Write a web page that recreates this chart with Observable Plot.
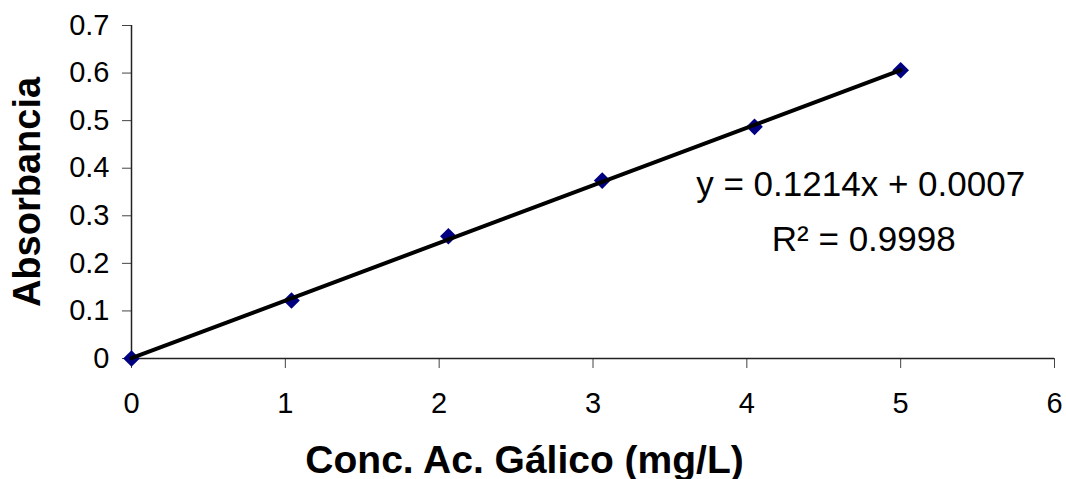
<!DOCTYPE html>
<html><head><meta charset="utf-8">
<script src="https://cdn.jsdelivr.net/npm/d3@7"></script>
<script src="https://cdn.jsdelivr.net/npm/@observablehq/plot@0.6"></script>
<style>body{margin:0;background:#fff;} svg{display:block;}</style>
</head><body><div id="chart"></div>
<script>
// Data
const conc = [0, 1.04, 2.06, 3.06, 4.05, 5.0];
const absorb = [0, 0.122, 0.257, 0.374, 0.487, 0.606];
const xTicks = [0, 1, 2, 3, 4, 5, 6];
const yTicks = [0, 0.1, 0.2, 0.3, 0.4, 0.5, 0.6, 0.7];
const equationLine = "y = 0.1214x + 0.0007";
const r2Line = "R² = 0.9998";
const xTitle = "Conc. Ac. Gálico (mg/L)";
const yTitle = "Absorbancia";

const points = conc.map((x, i) => ({x, y: absorb[i]}));

const chart = Plot.plot({
  width: 1066,
  height: 479,
  marginLeft: 131,
  marginRight: 12,
  marginTop: 25,
  marginBottom: 121,
  style: {fontFamily: "'Liberation Sans', Arial, sans-serif", fontSize: "29px", color: "#000", background: "#fff"},
  x: {domain: [0, 6]},
  y: {domain: [0, 0.7]},
  marks: [
    Plot.axisY(yTicks, {tickSize: 9, tickPadding: 13, fontSize: 29, label: null, stroke: "#444", fill: "#000",
      tickFormat: d => d === 0 ? "0" : d.toFixed(1)}),
    Plot.axisX(xTicks, {tickSize: 10, tickPadding: 24, fontSize: 29, label: null, stroke: "#444", fill: "#000",
      tickFormat: d => String(d)}),
    Plot.ruleY([0], {stroke: "#222", strokeWidth: 1.5}),
    Plot.ruleX([0], {stroke: "#222", strokeWidth: 1.5}),
    Plot.dot(points, {x: "x", y: "y", symbol: "diamond2", r: 7.5, fill: "#000080", stroke: "none"}),
    Plot.linearRegressionY(points, {x: "x", y: "y", stroke: "#000", strokeWidth: 4, ci: 0}),
    Plot.text([{t: equationLine, x: 4.74, y: 0.342}], {x: "x", y: "y", text: "t", lineAnchor: "bottom", textAnchor: "middle", fontSize: 35, fill: "#000"}),
    Plot.text([{t: r2Line, x: 4.76, y: 0.2266}], {x: "x", y: "y", text: "t", lineAnchor: "bottom", textAnchor: "middle", fontSize: 35, fill: "#000"}),
    Plot.text([xTitle], {x: () => 2.555, frameAnchor: "bottom", dy: 114, lineAnchor: "bottom", textAnchor: "middle", fontSize: 39, fontWeight: "bold", fill: "#000"}),
    Plot.text([yTitle], {frameAnchor: "left", dx: -104, rotate: -90, lineAnchor: "middle", textAnchor: "middle", fontSize: 38, fontWeight: "bold", fill: "#000"})
  ]
});
document.getElementById("chart").appendChild(chart);
</script>
</body></html>
